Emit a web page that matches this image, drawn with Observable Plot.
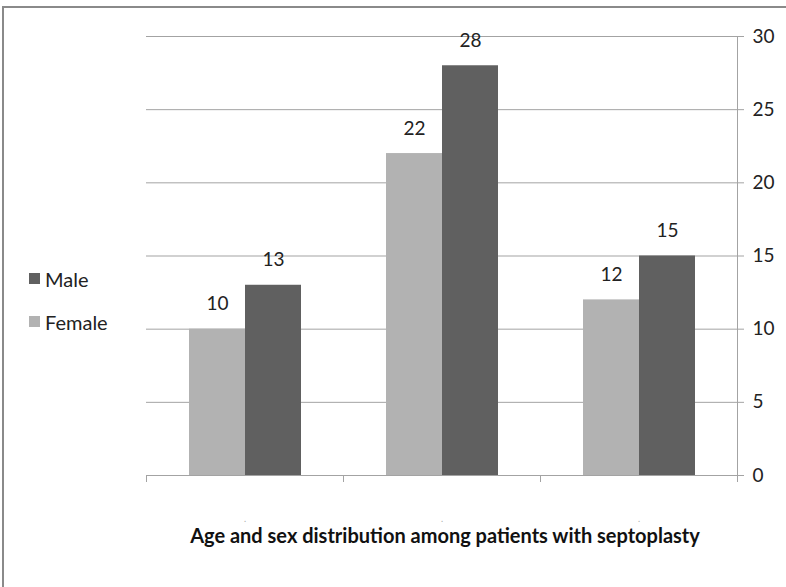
<!DOCTYPE html>
<html><head><meta charset="utf-8">
<script src="https://cdn.jsdelivr.net/npm/d3@7"></script>
<script src="https://cdn.jsdelivr.net/npm/@observablehq/plot@0.6"></script>
<style>
body{margin:0;background:#fff;font-family:Lato,"Open Sans",sans-serif;color:#222}
#wrap{position:relative;width:786px;height:587px;overflow:hidden;background:#fff}
#border{position:absolute;left:2px;top:6px;width:900px;height:700px;border-left:2px solid #8a8a8a;border-top:2px solid #8a8a8a;pointer-events:none}
#chart{position:absolute;left:0;top:0}
#legend{position:absolute;left:29px;top:257px;font-size:20px}
#legend .item{display:flex;align-items:center;height:43px}
#legend .sw{width:11px;height:11px;margin-right:5px}
#title{position:absolute;left:0;top:523px;width:890px;text-align:center;font-weight:bold;font-size:20px;line-height:24px;color:#111}
</style></head>
<body><div id="wrap"><div id="chart"></div><div id="legend"></div><div id="title"></div><div id="border"></div></div>
<script>
const groups = ["Group 1", "Group 2", "Group 3"];
const sexes = ["Female", "Male"];
const female = [10, 22, 12];
const male = [13, 28, 15];
const yTicks = [0, 5, 10, 15, 20, 25, 30];
const legendOrder = ["Male", "Female"];
const colors = ["#b2b2b2", "#606060"];
const titleText = "Age and sex distribution among patients with septoplasty";

const data = groups.flatMap((g, i) => [
  {group: g, sex: "Female", value: female[i]},
  {group: g, sex: "Male", value: male[i]}
]);
const grid = "#a3a3a3";

const chart = Plot.plot({
  width: 786, height: 530,
  marginLeft: 145, marginRight: 49, marginTop: 36, marginBottom: 55,
  style: {fontFamily: "Lato, 'Open Sans', sans-serif", background: "transparent"},
  fx: {domain: groups, padding: 0, label: null},
  x: {domain: sexes, paddingInner: 0, paddingOuter: 0.74, axis: null},
  y: {domain: [0, 30], label: null},
  color: {domain: sexes, range: colors},
  marks: [
    Plot.gridY(yTicks, {stroke: grid, strokeOpacity: 1}),
    Plot.barY(data, {fx: "group", x: "sex", y: "value", fill: "sex"}),
    Plot.text(data, {fx: "group", x: "sex", y: "value", text: "value", dy: -25, fontSize: 19, fill: "#222"}),
    Plot.ruleY([0], {stroke: grid}),
    Plot.frame({anchor: "left", stroke: grid, insetTop: 439, insetBottom: -6}),
    Plot.frame({anchor: "right", stroke: grid, facet: "super", insetBottom: -6}),
    Plot.axisY(yTicks, {anchor: "right", tickSize: 6, tickPadding: 9, fontSize: 19, fill: "#222", stroke: grid, label: null}),
    Plot.axisFx({anchor: "bottom", tickSize: 0, tickPadding: 40, tickFormat: () => ".", fontSize: 9, fill: "#aaa", label: null})
  ]
});
document.getElementById("chart").appendChild(chart);

const legend = document.getElementById("legend");
legendOrder.forEach(s => {
  const it = document.createElement("div");
  it.className = "item";
  const sw = document.createElement("span");
  sw.className = "sw";
  sw.style.background = colors[sexes.indexOf(s)];
  it.appendChild(sw);
  it.appendChild(document.createTextNode(s));
  legend.appendChild(it);
});
document.getElementById("title").textContent = titleText;
</script></body></html>
